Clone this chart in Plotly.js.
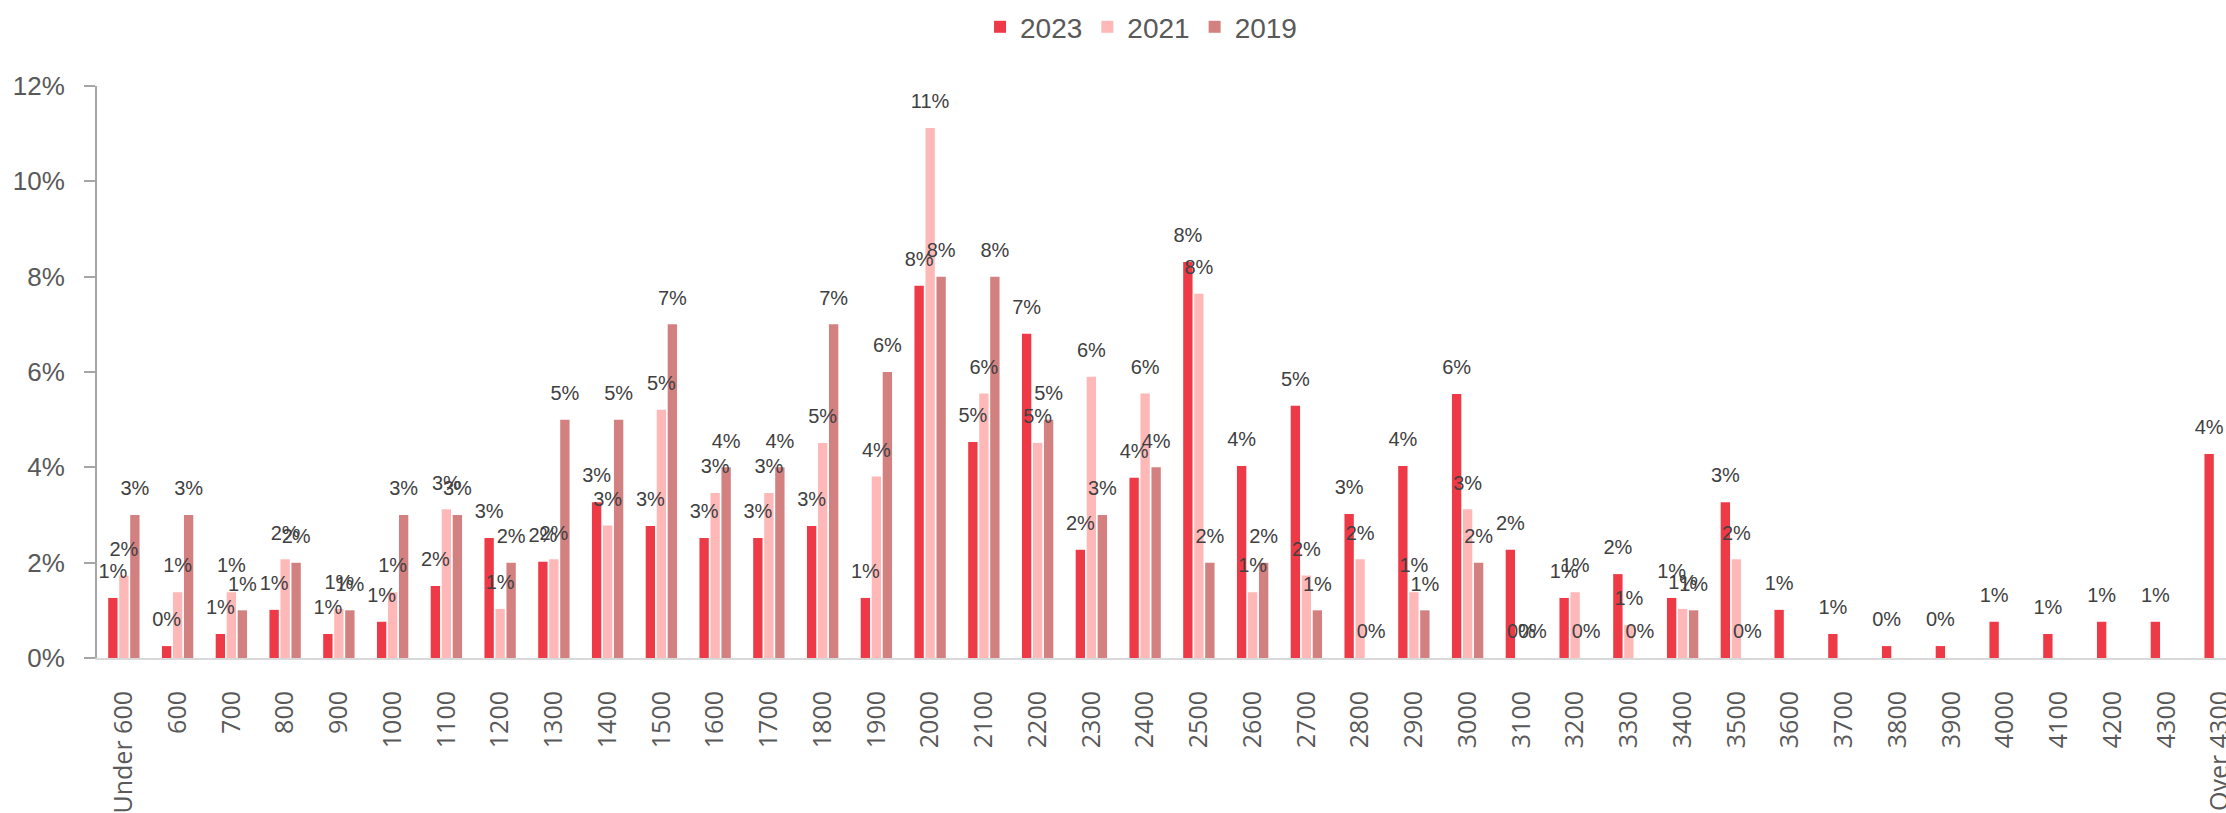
<!DOCTYPE html>
<html>
<head>
<meta charset="utf-8">
<script src="https://cdn.plot.ly/plotly-3.0.1.min.js"></script>
<style>
  html, body { margin: 0; padding: 0; background: #fff; overflow: hidden; }
  #chart { width: 2247px; height: 813px; }
</style>
</head>
<body>
<div id="chart"></div>
<script>
const categories = [
  'Under 600', '600', '700', '800', '900', '1000', '1100', '1200', '1300', '1400',
  '1500', '1600', '1700', '1800', '1900', '2000', '2100', '2200', '2300', '2400',
  '2500', '2600', '2700', '2800', '2900', '3000', '3100', '3200', '3300', '3400',
  '3500', '3600', '3700', '3800', '3900', '4000', '4100', '4200', '4300', 'Over 4300'
]

const years = ['2023', '2021', '2019']
const colors = ['#ee3a46', '#ffb8b8', '#d38080']

const share2023 = [
  0.0126, 0.0025, 0.00504, 0.0101, 0.00504, 0.0076, 0.0151, 0.0252, 0.0202, 0.0327,
  0.0277, 0.0252, 0.0252, 0.0277, 0.0126, 0.0781, 0.0453, 0.0680, 0.0227, 0.0378,
  0.0831, 0.0403, 0.0529, 0.0302, 0.0403, 0.0554, 0.0227, 0.0126, 0.0176, 0.0126,
  0.0327, 0.0101, 0.00504, 0.0025, 0.0025, 0.0076, 0.00504, 0.0076, 0.0076, 0.0428
]

const share2021 = [
  0.0173, 0.0138, 0.0138, 0.0207, 0.0103, 0.0138, 0.0312, 0.0103, 0.0207, 0.0278,
  0.0521, 0.0346, 0.0346, 0.0451, 0.0381, 0.1112, 0.0555, 0.0451, 0.0590, 0.0555,
  0.0764, 0.0138, 0.0173, 0.0207, 0.0138, 0.0312, 0, 0.0138, 0.0069, 0.0103,
  0.0207, null, null, null, null, null, null, null, null, null
]

const share2019 = [
  0.03, 0.03, 0.01, 0.02, 0.01, 0.03, 0.03, 0.02, 0.05, 0.05,
  0.07, 0.04, 0.04, 0.07, 0.06, 0.08, 0.08, 0.05, 0.03, 0.04,
  0.02, 0.02, 0.01, 0, 0.01, 0.02, 0, 0, 0, 0.01,
  0, null, null, null, null, null, null, null, null, null
]

const series = [share2023, share2021, share2019]
const gap = 0.386

// bars
let data = series.map((vals, i) => ({
  type: 'bar',
  name: years[i],
  x: categories,
  y: vals,
  marker: { color: colors[i] },
  hoverinfo: 'x+y+name',
}))

// value labels, grouped the same way as the bars
series.forEach((vals, i) => {
  data.push({
    type: 'scatter',
    mode: 'markers+text',
    x: categories,
    y: vals,
    marker: { size: 22, opacity: 0 },
    texttemplate: '%{y:.0%}',
    textposition: 'top center',
    textfont: { family: 'Liberation Sans, Arial, sans-serif', size: 20, color: '#404040' },
    cliponaxis: false,
    showlegend: false,
    hoverinfo: 'skip',
  })
})

const layout = {
  width: 2247,
  height: 813,
  margin: { l: 97, r: 0, t: 86, b: 155 },
  paper_bgcolor: '#ffffff',
  plot_bgcolor: '#ffffff',
  font: { family: 'Liberation Sans, Arial, sans-serif', color: '#595959' },
  barmode: 'group',
  bargap: gap,
  bargroupgap: 0.15,
  scattermode: 'group',
  scattergap: gap,
  showlegend: true,
  legend: {
    orientation: 'h',
    x: 0.4856,
    xanchor: 'center',
    y: 1.103,
    yanchor: 'middle',
    font: { size: 28, color: '#595959' },
    traceorder: 'normal',
  },
  xaxis: {
    type: 'category',
    tickangle: -90,
    tickfont: { family: 'Open Sans, sans-serif', size: 25, color: '#595959' },
    ticks: '',
    ticklabelstandoff: 21,
    showline: true,
    linecolor: '#d9d9d9',
    linewidth: 2,
    showgrid: false,
    zeroline: false,
    fixedrange: true,
  },
  yaxis: {
    range: [0, 0.12],
    tick0: 0,
    dtick: 0.02,
    tickformat: '.0%',
    tickfont: { size: 26, color: '#595959' },
    showline: true,
    linecolor: '#a6a6a6',
    linewidth: 2,
    ticks: 'outside',
    ticklen: 11,
    tickwidth: 2,
    tickcolor: '#a6a6a6',
    ticklabelstandoff: 14,
    showgrid: false,
    zeroline: false,
    fixedrange: true,
  },
  // second copy of the y axis only to draw the inner half of the tick marks
  yaxis2: {
    overlaying: 'y',
    side: 'left',
    anchor: 'x',
    range: [0, 0.12],
    tick0: 0,
    dtick: 0.02,
    ticks: 'inside',
    ticklen: 10,
    tickwidth: 2,
    tickcolor: '#a6a6a6',
    showticklabels: false,
    showline: false,
    showgrid: false,
    zeroline: false,
    fixedrange: true,
  },
}

const config = { displayModeBar: false, staticPlot: true }

Plotly.newPlot('chart', data, layout, config)
</script>
</body>
</html>
